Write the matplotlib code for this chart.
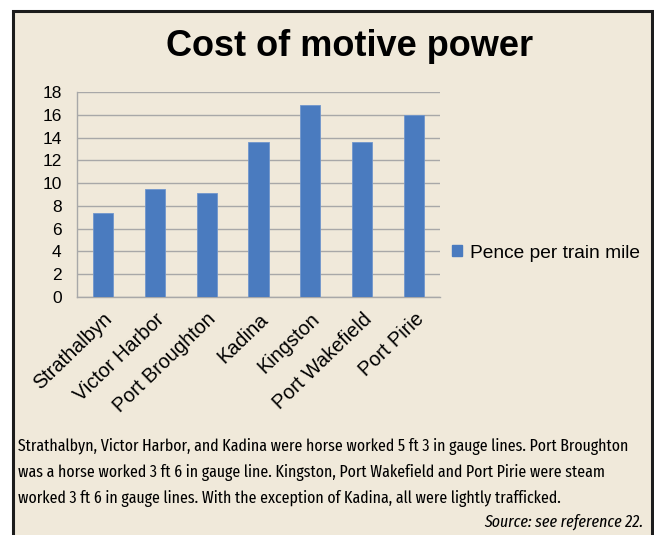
import matplotlib
matplotlib.use("Agg")
import matplotlib.pyplot as plt
from matplotlib.patches import Rectangle, Patch

# Data
towns = ["Strathalbyn", "Victor Harbor", "Port Broughton", "Kadina",
         "Kingston", "Port Wakefield", "Port Pirie"]
pence = [7.4, 9.5, 9.15, 13.6, 16.9, 13.6, 16.0]
y_ticks = list(range(0, 19, 2))

title = "Cost of motive power"
series_name = "Pence per train mile"
caption = ("Strathalbyn, Victor Harbor, and Kadina were horse worked 5 ft 3 in gauge lines. Port Broughton\n"
           "was a horse worked 3 ft 6 in gauge line. Kingston, Port Wakefield and Port Pirie were steam\n"
           "worked 3 ft 6 in gauge lines. With the exception of Kadina, all were lightly trafficked.")
source = "Source: see reference 22."

bar_color = "#4A7BBF"
beige = "#F0E9DA"
grid_color = "#A8A8A8"
cond = ["Fira Sans Extra Condensed", "DejaVu Sans"]

plt.rcParams['font.family'] = ['Liberation Sans', 'DejaVu Sans']

W, H = 654, 535
fig = plt.figure(figsize=(W / 100, H / 100), dpi=100, facecolor="white")

# beige panel with dark frame, behind everything
fig.patches.append(Rectangle((13 / W, -0.05), (652 - 13) / W, 1.05 - 11 / H,
                             transform=fig.transFigure, facecolor=beige,
                             edgecolor="#1c1c1c", linewidth=2.2, zorder=-10))

ax = fig.add_axes([77 / W, 1 - 297 / H, (440 - 77) / W, (297 - 92) / H])
ax.set_facecolor("none")

x = range(len(towns))
ax.bar(x, pence, width=0.39, color=bar_color, edgecolor="#7096cc",
       linewidth=0.6, zorder=3)

ax.set_ylim(0, 18)
ax.set_xlim(-0.5, len(towns) - 0.5)
ax.set_yticks(y_ticks)
ax.set_yticklabels([str(v) for v in y_ticks], fontsize=12.5)
ax.set_xticks(list(x))
ax.set_xticklabels(towns, rotation=44, ha="right", rotation_mode="anchor",
                   fontsize=14.3)
ax.tick_params(axis="y", length=0, pad=11)
ax.tick_params(axis="x", length=0, pad=9)
ax.yaxis.grid(True, color=grid_color, linewidth=1.0, zorder=0)
ax.set_axisbelow(True)
for s in ["top", "right"]:
    ax.spines[s].set_visible(False)
for s in ["left", "bottom"]:
    ax.spines[s].set_color(grid_color)
    ax.spines[s].set_linewidth(1.0)

fig.text(0.5 * (165 + 535) / W, 1 - 47 / H, title, ha="center", va="center",
         fontsize=26, fontweight="bold")

ax.legend(handles=[Patch(color=bar_color, label=series_name)],
          loc="center left", bbox_to_anchor=(435 / W, 1 - 253 / H),
          bbox_transform=fig.transFigure, frameon=False, fontsize=13.8,
          handlelength=0.5, handleheight=0.5, handletextpad=0.4)

fig.text(18 / W, 1 - 438 / H, caption, ha="left", va="top", fontsize=12.4,
         family=cond, linespacing=1.68)
fig.text(643 / W, 1 - 522 / H, source, ha="right", va="center", fontsize=12.4,
         style="italic", family=cond)

fig.savefig("out.png", dpi=100, facecolor="white")
